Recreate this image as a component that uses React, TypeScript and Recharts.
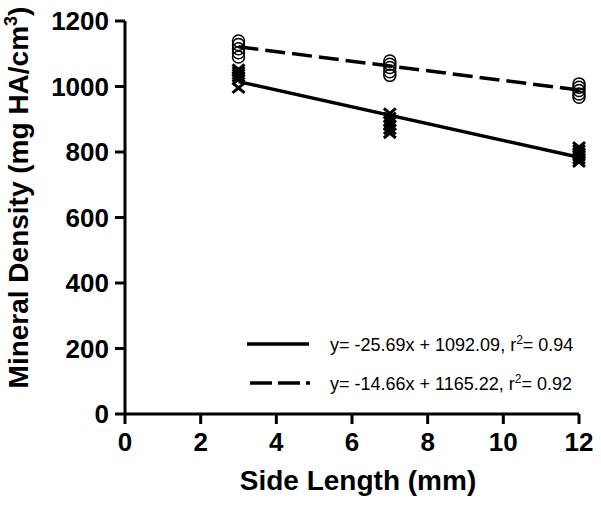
import { ScatterChart, Scatter, XAxis, YAxis, Legend } from "recharts"

const xGroups = [3, 7, 12]
const circleValues = [
  [1139, 1128, 1115, 1103, 1090],
  [1078, 1068, 1058, 1045, 1034],
  [1008, 998, 988, 977, 967],
]
const crossValues = [
  [1052, 1045, 1037, 1030, 1022, 996],
  [918, 905, 893, 882, 870, 858],
  [815, 806, 797, 788, 779, 770],
]
const fitX = [3, 12]
const solidFit = [1015.0, 783.8]
const dashedFit = [1121.2, 989.3]
const xTicks = [0, 2, 4, 6, 8, 10, 12]
const yTicks = [0, 200, 400, 600, 800, 1000, 1200]

const FONT = "'Liberation Sans', Arial, sans-serif"

const circleData = xGroups.flatMap((x, i) => circleValues[i].map((y) => ({ x, y })))
const crossData = xGroups.flatMap((x, i) => crossValues[i].map((y) => ({ x, y })))
const solidData = fitX.map((x, i) => ({ x, y: solidFit[i] }))
const dashedData = fitX.map((x, i) => ({ x, y: dashedFit[i] }))

function OpenCircle(props: any) {
  const { cx, cy } = props
  return <circle cx={cx} cy={cy} r={6} fill="none" stroke="#000" strokeWidth={1.5} />
}

function Cross(props: any) {
  const { cx, cy } = props
  return (
    <path
      d={`M${cx - 6},${cy - 5}L${cx + 6},${cy + 5}M${cx - 6},${cy + 5}L${cx + 6},${cy - 5}`}
      stroke="#000"
      strokeWidth={3}
      fill="none"
    />
  )
}

const NoShape = () => <g />

function XTitle(props: any) {
  const vb = props.viewBox || { x: 125, y: 414, width: 454, height: 94 }
  return (
    <text
      x={vb.x + vb.width / 2 + 6}
      y={vb.y + 76}
      textAnchor="middle"
      fontFamily={FONT}
      fontWeight="bold"
      fontSize={28}
      fill="#000"
    >
      Side Length (mm)
    </text>
  )
}

function YTitle(props: any) {
  const vb = props.viewBox || { x: 0, y: 21, width: 125, height: 393 }
  const cx = 28
  const cy = vb.y + vb.height / 2 - 20
  return (
    <text
      x={cx}
      y={cy}
      transform={`rotate(-90 ${cx} ${cy})`}
      textAnchor="middle"
      fontFamily={FONT}
      fontWeight="bold"
      fontSize={28}
      fill="#000"
    >
      Mineral Density (mg HA/cm
      <tspan dy={-11} fontSize={18}>3</tspan>
      <tspan dy={11}>)</tspan>
    </text>
  )
}

function FitLegend() {
  const row = { display: "flex", alignItems: "center", height: 24 }
  const label = { marginLeft: 19, fontFamily: FONT, fontSize: 18, color: "#000", whiteSpace: "nowrap" as const }
  return (
    <div>
      <div style={{ ...row, marginBottom: 15 }}>
        <svg width={66} height={10}>
          <line x1={2} y1={5} x2={64} y2={5} stroke="#000" strokeWidth={3.5} />
        </svg>
        <span style={label}>
          y= -25.69x + 1092.09, r<sup style={{ fontSize: 12 }}>2</sup>= 0.94
        </span>
      </div>
      <div style={row}>
        <svg width={66} height={10}>
          <line x1={5} y1={5} x2={65} y2={5} stroke="#000" strokeWidth={3.5} strokeDasharray="22 6" />
        </svg>
        <span style={label}>
          y= -14.66x + 1165.22, r<sup style={{ fontSize: 12 }}>2</sup>= 0.92
        </span>
      </div>
    </div>
  )
}

const tickStyle = { fill: "#000", fontSize: 26, fontWeight: "bold", fontFamily: FONT }
const axisStroke = { stroke: "#000", strokeWidth: 3 }

export default function App() {
  return (
    <div style={{ position: "absolute", left: 0, top: 0, width: 601, height: 508, background: "#fff" }}>
      <ScatterChart width={601} height={508} margin={{ top: 21, right: 22, bottom: 0, left: 0 }}>
        <XAxis
          type="number"
          dataKey="x"
          domain={[0, 12]}
          ticks={xTicks}
          interval={0}
          height={94}
          tick={tickStyle}
          tickSize={10}
          tickMargin={9}
          axisLine={axisStroke}
          tickLine={axisStroke}
          label={XTitle}
        />
        <YAxis
          type="number"
          dataKey="y"
          domain={[0, 1200]}
          ticks={yTicks}
          interval={0}
          width={125}
          tick={tickStyle}
          tickSize={10}
          tickMargin={6}
          axisLine={axisStroke}
          tickLine={axisStroke}
          label={YTitle}
        />
        <Scatter data={circleData} shape={OpenCircle} isAnimationActive={false} />
        <Scatter data={crossData} shape={Cross} isAnimationActive={false} />
        <Scatter
          data={solidData}
          shape={NoShape}
          line={{ stroke: "#000", strokeWidth: 3.5 }}
          lineType="joint"
          isAnimationActive={false}
        />
        <Scatter
          data={dashedData}
          shape={NoShape}
          line={{ stroke: "#000", strokeWidth: 3.5, strokeDasharray: "20 7" }}
          lineType="joint"
          isAnimationActive={false}
        />
        <Legend
          layout="vertical"
          align="center"
          verticalAlign="middle"
          content={FitLegend}
          wrapperStyle={{ position: "absolute", left: 245, top: 332, width: 350 }}
        />
      </ScatterChart>
    </div>
  )
}
